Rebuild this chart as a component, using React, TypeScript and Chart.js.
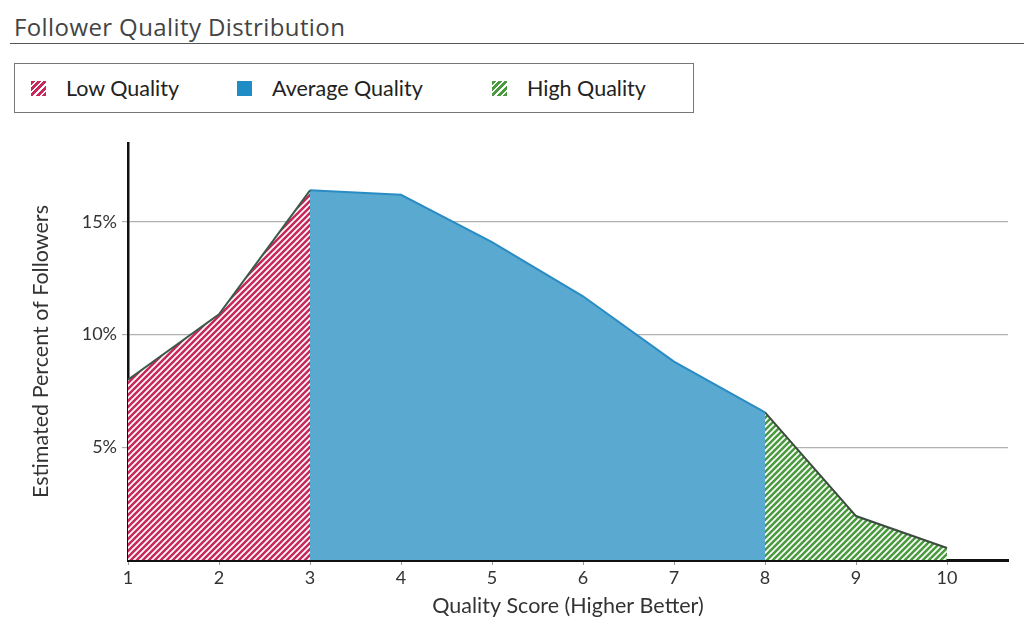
import { useEffect, useRef } from "react";
import { Chart, registerables } from "chart.js";

Chart.register(...registerables);

// quality score 1..10 and estimated share of followers (%)
const scores = [1, 2, 3, 4, 5, 6, 7, 8, 9, 10];
const percents = [8.0, 10.9, 16.4, 16.2, 14.1, 11.7, 8.8, 6.55, 1.95, 0.53];
const groupNames = ["Low Quality", "Average Quality", "High Quality"];
// score ranges of each group (inclusive)
const groupFrom = [1, 3, 8];
const groupTo = [3, 8, 10];
const yTicks = [5, 10, 15];

const FONT = "Lato, 'Open Sans', sans-serif";

function stripes(color: string) {
  const c = document.createElement("canvas");
  c.width = 6;
  c.height = 6;
  const g = c.getContext("2d")!;
  g.fillStyle = color;
  g.fillRect(0, 0, 6, 6);
  g.strokeStyle = "#ffffff";
  g.lineWidth = 1.7;
  g.beginPath();
  g.moveTo(-1, 1);
  g.lineTo(1, -1);
  g.moveTo(0, 6);
  g.lineTo(6, 0);
  g.moveTo(5, 7);
  g.lineTo(7, 5);
  g.stroke();
  return g.createPattern(c, "repeat")!;
}

function pointsFor(i: number) {
  return scores
    .map((s, k) => ({ x: s, y: percents[k] }))
    .filter((p) => p.x >= groupFrom[i] && p.x <= groupTo[i]);
}

const swatches = [
  "repeating-linear-gradient(135deg, #c8285c 0 3px, #ffffff 3px 4.5px)",
  "#1f8cc6",
  "repeating-linear-gradient(135deg, #4a9a3e 0 3px, #ffffff 3px 4.5px)",
];
const legendX = [16, 222, 477];

export default function App() {
  const canvasRef = useRef<HTMLCanvasElement>(null);

  useEffect(() => {
    if (!canvasRef.current) return;
    const fills = [stripes("#c8285c"), "#59a9d1", stripes("#4a9a3e")];
    const borders = ["#3c5a47", "#2a8cc4", "#3c4d40"];

    const chart = new Chart(canvasRef.current, {
      type: "line",
      data: {
        datasets: groupNames.map((name, i) => ({
          label: name,
          data: pointsFor(i),
          fill: "origin",
          backgroundColor: fills[i],
          borderColor: borders[i],
          borderWidth: 2,
          pointRadius: 0,
          tension: 0,
        })),
      },
      options: {
        animation: false,
        responsive: false,
        layout: { padding: { left: 24, right: 16, top: 13, bottom: 13 } },
        plugins: {
          legend: { display: false },
          tooltip: { enabled: false },
        },
        scales: {
          x: {
            type: "linear",
            min: 1,
            max: 10.67,
            afterFit: (s: any) => {
              s.height = 63;
              s.paddingLeft = 0;
              s.paddingRight = 0;
            },
            ticks: {
              stepSize: 1,
              includeBounds: false,
              color: "#333",
              font: { family: FONT, size: 18 },
              padding: 2,
              callback: (v: any) => (v <= 10 ? String(v) : ""),
            },
            grid: {
              drawOnChartArea: false,
              drawTicks: true,
              tickLength: 5,
              color: "#999",
            },
            border: { color: "#111", width: 3 },
            title: {
              display: true,
              text: "Quality Score (Higher Better)",
              color: "#333",
              font: { family: FONT, size: 21.5 },
              padding: { top: 0, bottom: 4 },
            },
          },
          y: {
            min: 0,
            max: 18.5,
            afterFit: (s: any) => {
              s.width = 104;
              s.paddingTop = 0;
              s.paddingBottom = 0;
            },
            afterBuildTicks: (s: any) => {
              s.ticks = yTicks.map((v) => ({ value: v }));
            },
            ticks: {
              color: "#333",
              font: { family: FONT, size: 18 },
              padding: 5,
              callback: (v: any) => v + "%",
            },
            grid: {
              color: "#b0b0b0",
              lineWidth: 1.2,
              tickLength: 6,
            },
            border: { color: "#111", width: 2.5 },
            title: {
              display: true,
              text: "Estimated Percent of Followers",
              color: "#333",
              font: { family: FONT, size: 21.5 },
              padding: { top: 4, bottom: 10 },
            },
          },
        },
      },
    });
    return () => chart.destroy();
  }, []);

  return (
    <div
      style={{
        position: "fixed",
        left: 0,
        top: 0,
        width: 1024,
        height: 636,
        background: "#fff",
        fontFamily: FONT,
      }}
    >
      <div
        style={{
          position: "absolute",
          left: 10,
          right: 0,
          top: 11,
          height: 32,
          borderBottom: "1px solid #555",
          paddingLeft: 4,
          fontSize: 24,
          letterSpacing: 0.4,
          lineHeight: "32px",
          color: "#444",
          fontFamily: "'Open Sans', sans-serif",
        }}
      >
        Follower Quality Distribution
      </div>
      <div
        style={{
          position: "absolute",
          left: 14,
          top: 63,
          width: 680,
          height: 50,
          border: "1px solid #777",
          boxSizing: "border-box",
        }}
      >
        {groupNames.map((name, i) => (
          <div
            key={name}
            style={{
              position: "absolute",
              left: legendX[i],
              top: 0,
              height: 48,
              display: "flex",
              alignItems: "center",
              fontSize: 21.5,
              color: "#222",
            }}
          >
            <span
              style={{
                display: "inline-block",
                width: 15,
                height: 15,
                background: swatches[i],
                marginRight: 20,
              }}
            />
            {name}
          </div>
        ))}
      </div>
      <canvas
        ref={canvasRef}
        width={1024}
        height={506}
        style={{ position: "absolute", left: 0, top: 130 }}
      />
    </div>
  );
}
